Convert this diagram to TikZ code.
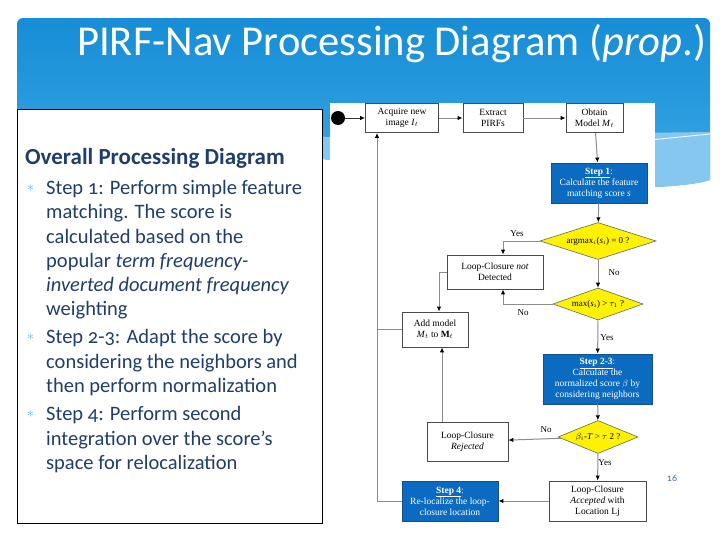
\documentclass[tikz,border=0pt]{standalone}
\usepackage{fontspec}
\setmainfont{Liberation Serif}
\newfontfamily\slidefont[Numbers=OldStyle]{Carlito}
\usetikzlibrary{arrows.meta,shapes.geometric}
\definecolor{bannertop}{HTML}{168DD6}
\definecolor{bannerbot}{HTML}{3DAAE7}
\definecolor{bannerlight}{HTML}{86C7EF}
\definecolor{txtblue}{HTML}{1F3E6C}
\definecolor{bulletblue}{HTML}{5AB6E8}
\definecolor{stepblue}{HTML}{0B6BC0}
\definecolor{stepedge}{HTML}{1B4D86}
\definecolor{diayellow}{HTML}{FFF200}
\definecolor{edgegray}{HTML}{4A4A4A}
\definecolor{linegray}{HTML}{8C8C8C}
\definecolor{pagenum}{HTML}{3F73A8}
\begin{document}
\begin{tikzpicture}[x=1pt,y=-1pt,
  box/.style={draw=edgegray, fill=white, line width=0.8pt, align=center, inner sep=0pt, font=\fontsize{9.5}{11}\selectfont},
  stepbox/.style={draw=stepedge, fill=stepblue, text=white, line width=0.8pt, align=center, inner sep=0pt, font=\fontsize{9.5}{11}\selectfont},
  decision/.style={diamond, draw=gray!80!black, fill=diayellow, line width=0.6pt, inner sep=0pt, font=\fontsize{9}{10}\selectfont},
  conn/.style={draw=linegray, line width=1pt, -{Latex[length=5pt,width=4.5pt,color=black]}},
  plainconn/.style={draw=linegray, line width=1pt},
  lbl/.style={font=\fontsize{9}{10}\selectfont, inner sep=0pt},
  bodyline/.style={anchor=base west, inner sep=0pt, text=txtblue, font=\slidefont\fontsize{20.5}{24}\selectfont},
  bul/.style={inner sep=0pt, text=bulletblue, font=\fontsize{15}{15}\selectfont},
]
\useasboundingbox (0,0) rectangle (728,546);
\fill[white] (0,0) rectangle (728,546);
% banner
\shade[top color=bannertop, bottom color=bannerbot]
  (17,24) arc[start angle=180,end angle=90,radius=6pt] -- (704,18)
  arc[start angle=90,end angle=0,radius=6pt] -- (710,180)
  .. controls (640,200) and (420,175) .. (330,160) -- (17,110) -- cycle;
\fill[bannerlight] (322,137) -- (710,132) -- (710,180)
  .. controls (640,200) and (420,175) .. (330,160) -- (322,159) -- cycle;
\draw[white, line width=0.8pt] (640,141) -- (710,134);
\node[anchor=base west, inner sep=0pt, text=white, font=\slidefont\fontsize{42.6}{46}\selectfont] (title) at (77,55) {PIRF-Nav Processing Diagram (\textit{prop}.)};
% left text box
\draw[black, fill=white, line width=1pt] (17,109) rectangle (322,523);
\node[anchor=base west, inner sep=0pt, text=txtblue, font=\slidefont\bfseries\fontsize{23}{26}\selectfont] (head) at (25,164) {Overall Processing Diagram};
\node[bul] (b1) at (30.5,188) {$\ast$};
\node[bul] (b2) at (30.5,337) {$\ast$};
\node[bul] (b3) at (30.5,414) {$\ast$};
\node[bodyline] (l1) at (46,194) {Step 1: Perform simple feature};
\node[bodyline] (l2) at (46,218.5) {matching. The score is};
\node[bodyline] (l3) at (46,243) {calculated based on the};
\node[bodyline] (l4) at (46,267) {popular \textit{term frequency-}};
\node[bodyline] (l5) at (46,291) {\textit{inverted document frequency}};
\node[bodyline] (l6) at (46,315) {weighting};
\node[bodyline] (l7) at (46,343) {Step 2-3: Adapt the score by};
\node[bodyline] (l8) at (46,368) {considering the neighbors and};
\node[bodyline] (l9) at (46,392) {then perform normalization};
\node[bodyline] (l10) at (46,420) {Step 4: Perform second};
\node[bodyline] (l11) at (46,445) {integration over the score’s};
\node[bodyline] (l12) at (46,469) {space for relocalization};
% diagram area
\fill[white] (330,103) rectangle (655,546);
\node[circle, fill=black, minimum size=14pt, inner sep=0pt] (start) at (338,118) {};
\node[box, minimum width=73pt, minimum height=29pt] (acq) at (402,118) {Acquire new\\image \textit{I}$_t$};
\node[box, minimum width=60pt, minimum height=29pt] (ext) at (493,118) {Extract\\PIRFs};
\node[box, minimum width=57pt, minimum height=29pt] (obt) at (594.5,118) {Obtain\\Model \textit{M}$_t$};
\node[stepbox, minimum width=96pt, minimum height=40pt] (s1) at (599,183) {\underline{\textbf{Step 1}}:\\Calculate the feature\\matching score \textit{s}};
\node[decision, aspect=3.1, minimum width=116pt, minimum height=37pt] (d1) at (598,241) {argmax$_i$(\textit{s}$_i$) = 0 ?};
\node[box, minimum width=96pt, minimum height=34pt] (lnd) at (495,272) {Loop-Closure \textit{not}\\Detected};
\node[decision, aspect=2.8, minimum width=90pt, minimum height=32pt] (d2) at (598,304) {max(\textit{s}$_i$) > $\tau_1$ ?};
\node[box, minimum width=66pt, minimum height=35pt] (add) at (435,329.5) {Add model\\\textit{M}$_t$ to \textbf{M}$_t$};
\node[stepbox, minimum width=109pt, minimum height=50pt] (s23) at (597.5,379) {\underline{\textbf{Step 2-3}}:\\Calculate the\\normalized score $\beta$ by\\considering neighbors};
\node[decision, aspect=2.4, minimum width=80pt, minimum height=33pt] (d3) at (598,437) {$\beta_i$-\textit{T} > $\tau$ 2 ?};
\node[box, minimum width=81pt, minimum height=39pt] (rej) at (467.5,441.5) {Loop-Closure\\\textit{Rejected}};
\node[box, minimum width=97pt, minimum height=40pt] (acc) at (597.5,501) {Loop-Closure\\\textit{Accepted} with\\Location Lj};
\node[stepbox, minimum width=96pt, minimum height=40pt] (s4) at (450,501) {\underline{\textbf{Step 4}}:\\Re-localize the loop-\\closure location};
% connectors
\draw[conn, draw=black!80] (start) -- (acq);
\draw[conn] (acq) -- (ext);
\draw[conn] (ext) -- (obt);
\draw[conn] (obt) -- (s1);
\draw[conn] (s1) -- (d1);
\draw[conn] (d1.west) -| ([xshift=8pt]lnd.north);
\draw[conn] (d1) -- (d2);
\draw[conn] (d2.west) -| ([xshift=8pt]lnd.south);
\draw[conn] (lnd.west) -| ([xshift=4pt]add.north);
\draw[conn] (d2) -- (s23);
\draw[conn] (s23) -- (d3);
\draw[conn] (d3) -- (rej);
\draw[conn] ([xshift=7pt]add.south |- rej.north) -- ([xshift=7pt]add.south);
\draw[conn] (d3) -- (acc);
\draw[conn] (acc) -- (s4);
\draw[conn] (s4.west) -| ([xshift=-25pt]acq.south);
\draw[plainconn] (add.west) -- (377,329.5);
% labels
\node[lbl] (y1) at (517,234) {Yes};
\node[lbl] (n1) at (614,273) {No};
\node[lbl] (n2) at (523,313) {No};
\node[lbl] (y2) at (607,338) {Yes};
\node[lbl] (n3) at (546,430) {No};
\node[lbl] (y3) at (605,463) {Yes};
\node[inner sep=0pt, text=pagenum, font=\slidefont\fontsize{10}{10}\selectfont] (pg) at (672,478) {16};
\end{tikzpicture}
\end{document}
